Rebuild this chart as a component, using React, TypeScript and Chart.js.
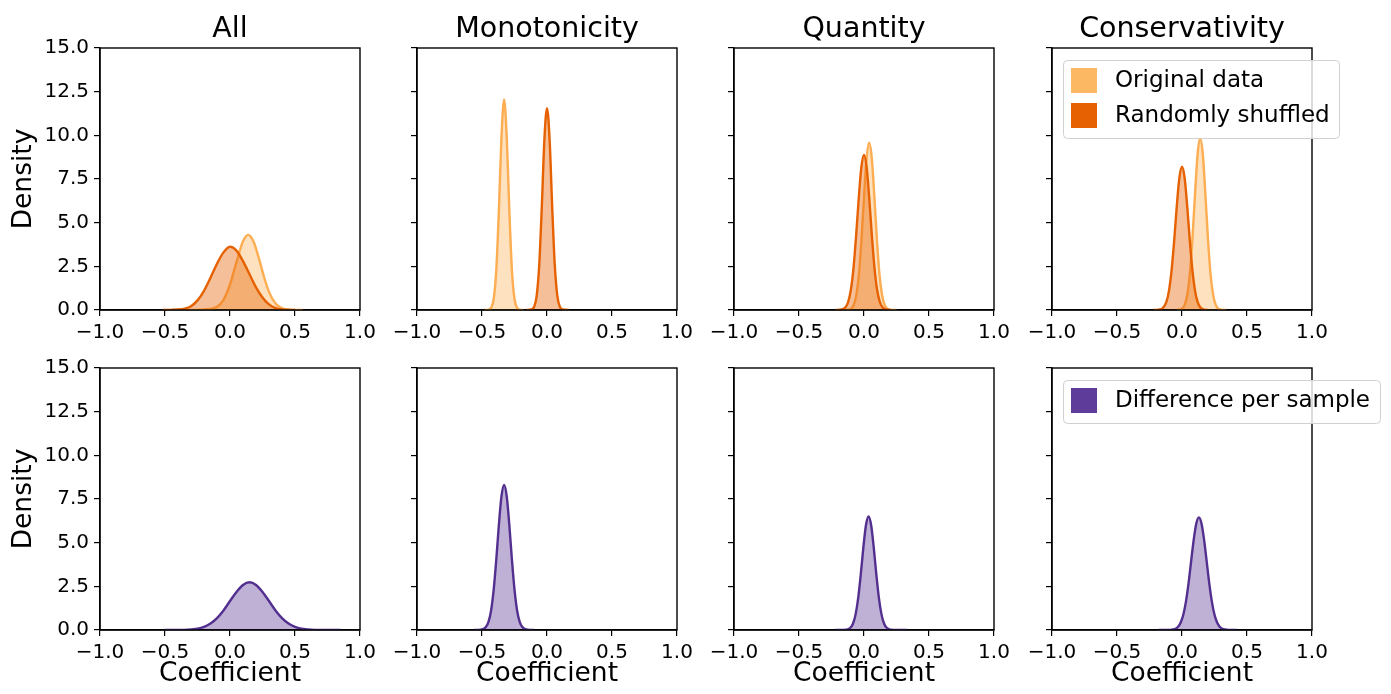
import React, { useEffect, useRef } from "react";
import { Chart, registerables } from "chart.js";

Chart.register(...registerables);

// ---------- data ----------
const PANEL_TITLES = ["All", "Monotonicity", "Quantity", "Conservativity"];
const X_TICKS = [-1.0, -0.5, 0.0, 0.5, 1.0];
const Y_TICKS = [0.0, 2.5, 5.0, 7.5, 10.0, 12.5, 15.0];
const LEGEND_TOP = ["Original data", "Randomly shuffled"];
const LEGEND_BOTTOM = ["Difference per sample"];
const X_LABEL = "Coefficient";
const Y_LABEL = "Density";

// Row 1: original data
const allOrigX = [-0.45, -0.3, -0.2, -0.1, -0.05, 0, 0.05, 0.1, 0.14, 0.18, 0.22, 0.26, 0.3, 0.35, 0.4, 0.45, 0.56];
const allOrigY = [0, 0.005, 0.03, 0.18, 0.58, 1.46, 2.74, 3.93, 4.3, 3.93, 3.02, 1.94, 1.04, 0.37, 0.1, 0.02, 0];
const monoOrigX = [-0.48, -0.45, -0.43, -0.41, -0.39, -0.37, -0.35, -0.33, -0.31, -0.29, -0.27, -0.25, -0.23, -0.21, -0.18];
const monoOrigY = [0, 0.02, 0.12, 0.63, 2.3, 5.75, 9.95, 12.05, 9.95, 5.75, 2.3, 0.63, 0.12, 0.02, 0];
const quantOrigX = [-0.16, -0.13, -0.1, -0.08, -0.06, -0.04, -0.02, 0, 0.02, 0.04, 0.06, 0.08, 0.1, 0.12, 0.14, 0.16, 0.18, 0.21, 0.25];
const quantOrigY = [0, 0.01, 0.08, 0.27, 0.82, 1.96, 3.95, 6.45, 8.69, 9.58, 8.69, 6.45, 3.95, 1.96, 0.82, 0.27, 0.08, 0.01, 0];
const consOrigX = [-0.04, 0, 0.02, 0.04, 0.06, 0.08, 0.1, 0.12, 0.14, 0.16, 0.18, 0.2, 0.22, 0.24, 0.26, 0.28, 0.31, 0.34];
const consOrigY = [0, 0.08, 0.28, 0.84, 2.01, 4.05, 6.62, 8.92, 9.83, 8.92, 6.62, 4.05, 2.01, 0.84, 0.28, 0.08, 0.01, 0];

// Row 1: randomly shuffled
const allShufX = [-0.52, -0.45, -0.4, -0.35, -0.3, -0.25, -0.2, -0.15, -0.1, -0.05, 0, 0.05, 0.1, 0.15, 0.2, 0.25, 0.3, 0.35, 0.4, 0.5];
const allShufY = [0, 0.01, 0.03, 0.08, 0.22, 0.55, 1.1, 1.85, 2.65, 3.3, 3.62, 3.4, 2.8, 2.05, 1.3, 0.72, 0.32, 0.11, 0.03, 0];
const monoShufX = [-0.16, -0.12, -0.1, -0.08, -0.06, -0.04, -0.02, 0, 0.02, 0.04, 0.06, 0.08, 0.1, 0.12, 0.17];
const monoShufY = [0, 0.03, 0.17, 0.78, 2.54, 5.89, 9.76, 11.55, 9.76, 5.89, 2.54, 0.78, 0.17, 0.03, 0];
const quantShufX = [-0.22, -0.17, -0.14, -0.12, -0.1, -0.08, -0.06, -0.04, -0.02, 0, 0.02, 0.04, 0.06, 0.08, 0.1, 0.12, 0.14, 0.17, 0.2];
const quantShufY = [0, 0.03, 0.18, 0.5, 1.2, 2.46, 4.32, 6.44, 8.19, 8.87, 8.19, 6.44, 4.32, 2.46, 1.2, 0.5, 0.18, 0.03, 0];
const consShufX = [-0.22, -0.18, -0.15, -0.12, -0.1, -0.08, -0.06, -0.04, -0.02, 0, 0.02, 0.04, 0.06, 0.08, 0.1, 0.12, 0.14, 0.17, 0.2];
const consShufY = [0, 0.02, 0.1, 0.46, 1.11, 2.28, 3.99, 5.95, 7.57, 8.2, 7.57, 5.95, 3.99, 2.28, 1.11, 0.46, 0.16, 0.02, 0];

// Row 2: difference per sample
const allDiffX = [-0.5, -0.35, -0.25, -0.2, -0.15, -0.1, -0.05, 0, 0.05, 0.1, 0.15, 0.2, 0.25, 0.3, 0.35, 0.4, 0.45, 0.5, 0.55, 0.65, 0.85];
const allDiffY = [0, 0.01, 0.08, 0.18, 0.37, 0.68, 1.12, 1.66, 2.18, 2.58, 2.73, 2.58, 2.18, 1.66, 1.12, 0.68, 0.37, 0.18, 0.08, 0.01, 0];
const monoDiffX = [-0.56, -0.51, -0.47, -0.45, -0.43, -0.41, -0.39, -0.37, -0.35, -0.33, -0.31, -0.29, -0.27, -0.25, -0.23, -0.21, -0.19, -0.15, -0.1];
const monoDiffY = [0, 0.02, 0.17, 0.46, 1.12, 2.31, 4.04, 6.03, 7.66, 8.3, 7.66, 6.03, 4.04, 2.31, 1.12, 0.46, 0.17, 0.02, 0];
const quantDiffX = [-0.22, -0.135, -0.105, -0.085, -0.065, -0.045, -0.025, -0.005, 0.015, 0.035, 0.055, 0.075, 0.095, 0.115, 0.135, 0.155, 0.175, 0.205, 0.33];
const quantDiffY = [0, 0.02, 0.13, 0.36, 0.88, 1.81, 3.17, 4.72, 6.0, 6.5, 6.0, 4.72, 3.17, 1.81, 0.88, 0.36, 0.13, 0.02, 0];
const consDiffX = [-0.18, -0.09, -0.05, -0.03, -0.01, 0.01, 0.03, 0.05, 0.07, 0.09, 0.11, 0.13, 0.15, 0.17, 0.19, 0.21, 0.23, 0.25, 0.27, 0.29, 0.31, 0.35, 0.42];
const consDiffY = [0, 0.01, 0.07, 0.19, 0.43, 0.87, 1.61, 2.65, 3.92, 5.16, 6.1, 6.45, 6.1, 5.16, 3.92, 2.65, 1.61, 0.87, 0.43, 0.19, 0.07, 0.01, 0];

const ORIG_X = [allOrigX, monoOrigX, quantOrigX, consOrigX];
const ORIG_Y = [allOrigY, monoOrigY, quantOrigY, consOrigY];
const SHUF_X = [allShufX, monoShufX, quantShufX, consShufX];
const SHUF_Y = [allShufY, monoShufY, quantShufY, consShufY];
const DIFF_X = [allDiffX, monoDiffX, quantDiffX, consDiffX];
const DIFF_Y = [allDiffY, monoDiffY, quantDiffY, consDiffY];

// ---------- style / layout ----------
const C_ORIG = "#fdb863";
const C_ORIG_LINE = "#fdad52";
const C_SHUF = "#e66101";
const C_DIFF = "#5e3c99";
const C_DIFF_LINE = "#53308f";
const F_ORIG = "rgba(253,184,99,0.42)";
const F_SHUF = "rgba(230,97,1,0.40)";
const F_DIFF = "rgba(94,60,153,0.40)";
const FONT = "'DejaVu Sans', sans-serif";

const PLOT_LEFT = [100, 417, 734, 1052];
const PLOT_TOP = [48, 368];
const PLOT_W = 260;
const PLOT_H = 262;
const M_LEFT = 100;
const M_TOP = 48;
const M_RIGHT = 90;
const M_BOTTOM = 64;
const CW = M_LEFT + PLOT_W + M_RIGHT;
const CH = M_TOP + PLOT_H + M_BOTTOM;

const fmt = (v: number) => (v < 0 ? "\u2212" : "") + Math.abs(v).toFixed(1);

const toPoints = (xs: number[], ys: number[]) => xs.map((x, i) => ({ x, y: ys[i] }));

const framePlugin = {
  id: "frame",
  afterDatasetsDraw(chart: any) {
    const { ctx, chartArea: a } = chart;
    ctx.save();
    ctx.strokeStyle = "#000";
    ctx.lineWidth = 1.4;
    ctx.strokeRect(a.left, a.top, a.right - a.left, a.bottom - a.top);
    ctx.restore();
  },
};

function makeLegendPlugin(labels: string[], colors: string[], boxW: number) {
  return {
    id: "mplLegend",
    afterDraw(chart: any) {
      const ctx = chart.ctx as CanvasRenderingContext2D;
      const bx = 111;
      const by = 60;
      const h = labels.length * 35 + 8;
      ctx.save();
      ctx.beginPath();
      (ctx as any).roundRect(bx + 0.5, by + 0.5, boxW, h, 4);
      ctx.fillStyle = "rgba(255,255,255,0.8)";
      ctx.fill();
      ctx.strokeStyle = "#d0d0d0";
      ctx.lineWidth = 1;
      ctx.stroke();
      labels.forEach((lab, i) => {
        const py = by + 8 + i * 35;
        ctx.fillStyle = colors[i];
        ctx.fillRect(bx + 8, py, 26, 25);
        ctx.fillStyle = "#000";
        ctx.font = `23px ${FONT}`;
        ctx.textBaseline = "middle";
        ctx.textAlign = "left";
        ctx.fillText(lab, bx + 52, py + 13);
      });
      ctx.restore();
    },
  };
}

function buildConfig(row: number, col: number): any {
  const lineBase = {
    borderWidth: 2.4,
    pointRadius: 0,
    fill: "origin",
    cubicInterpolationMode: "monotone",
    borderJoinStyle: "round",
  };
  const datasets =
    row === 0
      ? [
          { ...lineBase, label: LEGEND_TOP[0], data: toPoints(ORIG_X[col], ORIG_Y[col]), borderColor: C_ORIG_LINE, backgroundColor: F_ORIG, order: 2 },
          { ...lineBase, label: LEGEND_TOP[1], data: toPoints(SHUF_X[col], SHUF_Y[col]), borderColor: C_SHUF, backgroundColor: F_SHUF, order: 1 },
        ]
      : [{ ...lineBase, label: LEGEND_BOTTOM[0], data: toPoints(DIFF_X[col], DIFF_Y[col]), borderColor: C_DIFF_LINE, backgroundColor: F_DIFF, order: 1 }];

  const plugins: any[] = [framePlugin];
  if (col === 3) {
    if (row === 0) plugins.push(makeLegendPlugin(LEGEND_TOP, [C_ORIG, C_SHUF], 276));
    else plugins.push(makeLegendPlugin(LEGEND_BOTTOM, [C_DIFF], 317));
  }

  return {
    type: "line",
    data: { datasets },
    plugins,
    options: {
      animation: false,
      responsive: false,
      maintainAspectRatio: false,
      events: [],
      layout: { padding: { left: 0, top: row === 0 ? 0 : M_TOP, right: M_RIGHT, bottom: 0 } },
      plugins: {
        legend: { display: false },
        tooltip: { enabled: false },
        title: {
          display: row === 0,
          text: PANEL_TITLES[col],
          fullSize: false,
          color: "#000",
          font: { family: FONT, size: 28.5, weight: "normal", lineHeight: 1 },
          padding: { top: 15, bottom: 4.5 },
        },
      },
      scales: {
        x: {
          type: "linear",
          min: -1,
          max: 1,
          afterBuildTicks: (s: any) => {
            s.ticks = X_TICKS.map((v) => ({ value: v }));
          },
          afterFit: (s: any) => {
            s.height = M_BOTTOM;
          },
          grid: { display: true, drawOnChartArea: false, drawTicks: true, tickLength: 6, color: "#000", lineWidth: 1.2 },
          border: { display: true, color: "#000", width: 1.4 },
          ticks: {
            autoSkip: false,
            maxRotation: 0,
            padding: 5,
            color: "#000",
            font: { family: FONT, size: 20 },
            callback: (v: number) => fmt(v),
          },
          title: {
            display: row === 1,
            text: X_LABEL,
            color: "#000",
            font: { family: FONT, size: 26.5 },
            padding: { top: 0, bottom: 4 },
          },
        },
        y: {
          type: "linear",
          min: 0,
          max: 15,
          afterBuildTicks: (s: any) => {
            s.ticks = Y_TICKS.map((v) => ({ value: v }));
          },
          afterFit: (s: any) => {
            s.width = M_LEFT;
          },
          grid: { display: true, drawOnChartArea: false, drawTicks: true, tickLength: 6, color: "#000", lineWidth: 1.2 },
          border: { display: true, color: "#000", width: 1.4 },
          ticks: {
            autoSkip: false,
            padding: 5,
            color: "#000",
            font: { family: FONT, size: 20 },
            callback: (v: number) => (col === 0 ? fmt(v) : ""),
          },
          title: {
            display: col === 0,
            text: Y_LABEL,
            color: "#000",
            font: { family: FONT, size: 26.5 },
            padding: { top: 8, bottom: 0 },
          },
        },
      },
    },
  };
}

function Panel({ row, col }: { row: number; col: number }) {
  const ref = useRef<HTMLCanvasElement>(null);
  useEffect(() => {
    const chart = new Chart(ref.current as HTMLCanvasElement, buildConfig(row, col));
    return () => chart.destroy();
  }, [row, col]);
  const left = PLOT_LEFT[col] - M_LEFT;
  const top = PLOT_TOP[row] - M_TOP;
  return (
    <canvas
      ref={ref}
      width={CW}
      height={CH}
      style={{ position: "absolute", left, top, width: CW, height: CH }}
    />
  );
}

export default function App() {
  const cells: JSX.Element[] = [];
  for (let r = 0; r < 2; r++) {
    for (let c = 0; c < 4; c++) {
      cells.push(<Panel key={`${r}-${c}`} row={r} col={c} />);
    }
  }
  return (
    <div
      style={{
        position: "absolute",
        left: 0,
        top: 0,
        width: 1391,
        height: 694,
        overflow: "hidden",
        background: "#fff",
      }}
    >
      {cells}
    </div>
  );
}
